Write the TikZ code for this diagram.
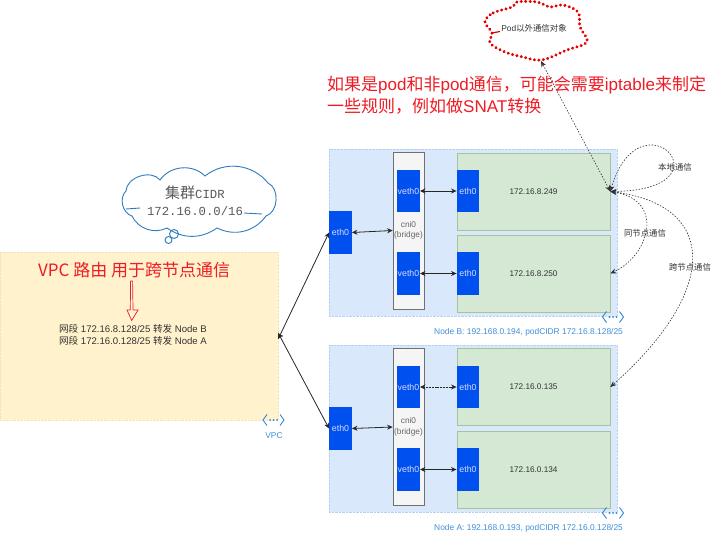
\documentclass[tikz,border=0pt]{standalone}
\usepackage{fontspec}
\setmainfont{Liberation Sans}
\newfontfamily\cjk{Noto Sans CJK SC}
\newfontfamily\monof{Liberation Mono}
\usetikzlibrary{arrows.meta}
\definecolor{nodefill}{HTML}{DAE8FC}
\definecolor{nodeedge}{HTML}{B9CFEF}
\definecolor{podfill}{HTML}{D5E8D4}
\definecolor{podedge}{HTML}{A5C49A}
\definecolor{ethblue}{HTML}{0050EF}
\definecolor{vpcfill}{HTML}{FFF2CC}
\definecolor{vpcedge}{HTML}{F2E3B5}
\definecolor{cniedge}{HTML}{707070}
\definecolor{linkblue}{HTML}{3F8FDA}
\definecolor{iconblue}{HTML}{2F87DC}
\definecolor{redtxt}{HTML}{EE1C25}
\definecolor{cloudblue}{HTML}{2E7CBF}
\definecolor{txtgray}{HTML}{333333}
\tikzset{
  nodebox/.style={rectangle,draw=nodeedge,densely dotted,fill=nodefill,minimum width=288pt,minimum height=167pt,inner sep=0pt},
  vpcbox/.style={rectangle,draw=vpcedge,densely dotted,fill=vpcfill,minimum width=278pt,minimum height=168pt,inner sep=0pt},
  cnibox/.style={rectangle,draw=cniedge,line width=.7pt,fill=black!4,minimum width=31pt,minimum height=157pt,inner sep=0pt,align=center,text=black!60,font=\fontsize{8.3}{10.5}\selectfont},
  podbox/.style={rectangle,draw=podedge,line width=.7pt,fill=podfill,minimum width=153pt,minimum height=77pt,inner sep=0pt,text=txtgray,font=\fontsize{8.2}{10}\selectfont},
  ethbox/.style={rectangle,fill=ethblue,minimum width=22.5pt,minimum height=42.5pt,inner sep=0pt,text=white!85!blue,font=\fontsize{8.8}{10}\selectfont},
  linktxt/.style={inner sep=0pt,text=linkblue,font=\fontsize{8.4}{10}\selectfont},
  lbl/.style={inner sep=0pt,text=txtgray,font=\cjk\fontsize{8.4}{10}\selectfont},
  redlbl/.style={inner sep=0pt,text=redtxt,anchor=west,font=\fontsize{17}{21}\selectfont},
  solidlink/.style={{Stealth[length=5.5pt,width=5pt]}-{Stealth[length=5.5pt,width=5pt]},line width=.8pt,black!85},
  dotlink/.style={{Stealth[length=6pt,width=5pt]}-{Stealth[length=6pt,width=5pt]},line width=.6pt,black!80,dash pattern=on 1.5pt off 1.5pt},
  vpcicon/.pic={
    \draw[iconblue,line width=.9pt] (-6.5,-5.5) -- (-10.5,0) -- (-6.5,5.5);
    \draw[iconblue,line width=.9pt] (6.5,-5.5) -- (10.5,0) -- (6.5,5.5);
    \fill[iconblue] (-3.5,0) circle (1pt) (0,0) circle (1pt) (3.5,0) circle (1pt);
  }
}
\begin{document}
\begin{tikzpicture}[x=1pt,y=-1pt]
\useasboundingbox[fill=white] (0,0) rectangle (720,537);

% large areas
\node[vpcbox] (vpc) at (139,336) {};
\node[nodebox] (nodeB) at (473,232.5) {};
\node[nodebox] (nodeA) at (473,428.5) {};

% node B
\node[cnibox] (cniB) at (408.5,230.5) {cni0\\(bridge)};
\node[podbox] (podBa) at (533.5,191.5) {172.16.8.249};
\node[podbox] (podBb) at (533.5,273.5) {172.16.8.250};
\node[ethbox] (vethBa) at (408.5,191) {veth0};
\node[ethbox] (vethBb) at (408.5,273.5) {veth0};
\node[ethbox] (ethBa) at (468,191) {eth0};
\node[ethbox] (ethBb) at (468,273.5) {eth0};
\node[ethbox] (ethB) at (340.5,232.5) {eth0};

% node A
\node[cnibox] (cniA) at (408.5,427) {cni0\\(bridge)};
\node[podbox] (podAa) at (533.5,387) {172.16.0.135};
\node[podbox] (podAb) at (533.5,469.5) {172.16.0.134};
\node[ethbox] (vethAa) at (408.5,387) {veth0};
\node[ethbox] (vethAb) at (408.5,469.5) {veth0};
\node[ethbox] (ethAa) at (468,387) {eth0};
\node[ethbox] (ethAb) at (468,469.5) {eth0};
\node[ethbox] (ethA) at (340.5,428.5) {eth0};

% icons
\pic at (273.5,420) {vpcicon};
\pic at (613,317) {vpcicon};
\pic at (613,513) {vpcicon};

% captions
\node[linktxt] (capvpc) at (274,436) {VPC};
\node[linktxt,anchor=west] (capB) at (434,332.5) {Node B: 192.168.0.194, podCIDR 172.16.8.128/25};
\node[linktxt,anchor=west] (capA) at (434,528.5) {Node A: 192.168.0.193, podCIDR 172.16.0.128/25};

% VPC text
\node[inner sep=0pt,align=center,text=txtgray,font=\fontsize{9.6}{12}\selectfont] (route) at (133,335)
  {{\cjk 网段} 172.16.8.128/25 {\cjk 转发} Node B\\{\cjk 网段} 172.16.0.128/25 {\cjk 转发} Node A};
\node[redlbl,font=\cjk\fontsize{17}{21}\selectfont] (vpctitle) at (38,270) {VPC 路由 用于跨节点通信};
\draw[redtxt,line width=.7pt,line join=miter,fill=vpcfill!70!white]
  (130.6,281) -- (132.6,281) -- (133,310) -- (138,310) -- (131.7,320.5) -- (127,310) -- (130.3,310) -- cycle;

% red annotation
\node[redlbl] (note1) at (327,85) {{\cjk 如果是}pod{\cjk 和非}pod{\cjk 通信，可能会需要}iptable{\cjk 来制定}};
\node[redlbl] (note2) at (327,106) {{\cjk 一些规则，例如做}SNAT{\cjk 转换}};

% blue cloud
\draw[cloudblue,line width=.9pt,fill=white]
  (126,191) to[bend left=70] (160,180) to[bend left=50] (205,176) to[bend left=45] (268,183)
  to[bend left=70] (266,216) to[bend left=40] (217,228) to[bend left=35] (167,228)
  to[bend left=45] (132,216) to[bend left=60] cycle;
\draw[cloudblue,line width=.9pt] (126,209) -- (140,208) (244,213) -- (262,214);
\draw[cloudblue,line width=.9pt] (174,234) circle (4.5pt);
\draw[cloudblue,line width=.9pt] (168.5,240) circle (3.5pt);
\node[inner sep=0pt,text=black!65,font=\fontsize{12.3}{15}\selectfont] (cidra) at (195,193) {{\cjk\fontsize{15}{15}\selectfont 集群}{\monof CIDR}};
\node[inner sep=0pt,text=black!65,font=\monof\fontsize{12.3}{15}\selectfont] (cidrb) at (195,211) {172.16.0.0/16};

% red dotted cloud
\draw[red!90!black,line width=3pt,line cap=round,dash pattern=on .3pt off 4.2pt]
  plot[smooth cycle,tension=.6] coordinates {(485,22) (493,13) (512,7) (517,2) (537,2) (550,7) (563,5) (578,12) (580,27) (587,42) (567,50) (542,60) (523,57) (505,52) (490,43) (492,33)};
\draw[red!85!black,line width=1.2pt] (492,33) -- (500,31.5);
\coordinate (cloudtip) at (541,61);
\node[lbl] (outside) at (534,28) {{\fontspec{Liberation Sans}Pod}以外通信对象};

% solid links
\draw[solidlink] (vethBa.east) -- (ethBa.west);
\draw[solidlink] (vethBb.east) -- (ethBb.west);
\draw[solidlink,dash pattern=on 2pt off .8pt] (vethAa.east) -- (ethAa.west);
\draw[solidlink] (vethAb.east) -- (ethAb.west);
\draw[solidlink] (ethB.east) -- (cniB.west);
\draw[solidlink] (ethA.east) -- (cniA.west);
\draw[solidlink] (ethB.west) -- ([yshift=-3pt]vpc.east);
\draw[solidlink] (ethA.west) -- ([yshift=3pt]vpc.east);

% dotted links
\draw[dotlink] (podBa.east) -- (cloudtip);
\draw[dotlink] (podBa.east) .. controls (640,90) and (735,190) .. (podBa.east);
\draw[dotlink] (podBa.east) .. controls (665,200) and (650,255) .. (podBb.east);
\draw[dotlink] (podBa.east) .. controls (718,205) and (720,290) .. (podAa.east);

% link labels
\node[lbl] (local) at (675,167) {本地通信};
\node[lbl] (same) at (645,233) {同节点通信};
\node[lbl] (cross) at (690,267) {跨节点通信};
\end{tikzpicture}
\end{document}
